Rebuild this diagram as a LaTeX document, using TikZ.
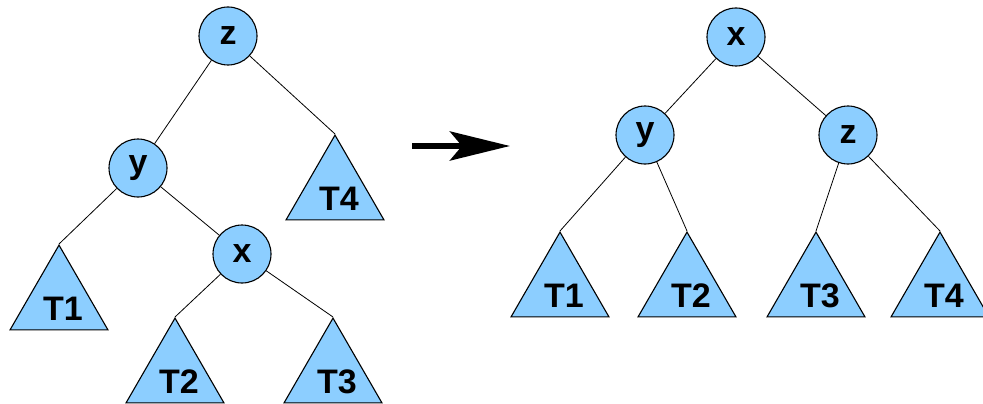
\documentclass[tikz,border=0pt]{standalone}
\usepackage{fontspec}
\setmainfont{Liberation Sans}
\usetikzlibrary{shapes.geometric,arrows.meta}
\definecolor{treeblue}{RGB}{140,206,255}
\tikzset{
  treenode/.style={circle, draw=black, line width=1.1pt, fill=treeblue,
    minimum size=58pt, inner sep=0pt, font=\fontsize{34}{40}\selectfont\bfseries},
  subtree/.style={regular polygon, regular polygon sides=3, draw=black,
    line width=1.1pt, fill=treeblue, minimum size=113pt, inner sep=0pt},
  sublabel/.style={font=\fontsize{34}{40}\selectfont\bfseries, inner sep=0pt,
    xshift=4pt, yshift=-7pt},
  edge/.style={draw=black, line width=0.8pt},
}
\begin{document}
\begin{tikzpicture}[x=1pt,y=-1pt]
\useasboundingbox (0,0) rectangle (983,404);

% tree before the rotation
\node[treenode] (lz) at (228,36) {z};
\node[treenode] (ly) at (138,168) {y};
\node[treenode] (lx) at (242,254) {x};
\node[subtree, label={[sublabel]center:T4}] (lt4) at (335,191.6) {};
\node[subtree, label={[sublabel]center:T1}] (lt1) at (59,301.6) {};
\node[subtree, label={[sublabel]center:T2}] (lt2) at (175,374.6) {};
\node[subtree, label={[sublabel]center:T3}] (lt3) at (333,374.6) {};

\draw[edge] (lz) -- (ly);
\draw[edge] (lz) -- (lt4.corner 1);
\draw[edge] (ly) -- (lt1.corner 1);
\draw[edge] (ly) -- (lx);
\draw[edge] (lx) -- (lt2.corner 1);
\draw[edge] (lx) -- (lt3.corner 1);

% the arrow between the two trees
\coordinate (arrS) at (412,146);
\coordinate (arrE) at (510,146);
\draw[line width=6pt, -{Stealth[length=60pt,width=29pt,inset=12pt]}] (arrS) -- (arrE);

% tree after the rotation
\node[treenode] (rx) at (736,37) {x};
\node[treenode] (ry) at (645,135) {y};
\node[treenode] (rz) at (848,135) {z};
\node[subtree, label={[sublabel]center:T1}] (rt1) at (560,288.6) {};
\node[subtree, label={[sublabel]center:T2}] (rt2) at (687,288.6) {};
\node[subtree, label={[sublabel]center:T3}] (rt3) at (816,288.6) {};
\node[subtree, label={[sublabel]center:T4}] (rt4) at (940,288.6) {};

\draw[edge] (rx) -- (ry);
\draw[edge] (rx) -- (rz);
\draw[edge] (ry) -- (rt1.corner 1);
\draw[edge] (ry) -- (rt2.corner 1);
\draw[edge] (rz) -- (rt3.corner 1);
\draw[edge] (rz) -- (rt4.corner 1);
\end{tikzpicture}
\end{document}
